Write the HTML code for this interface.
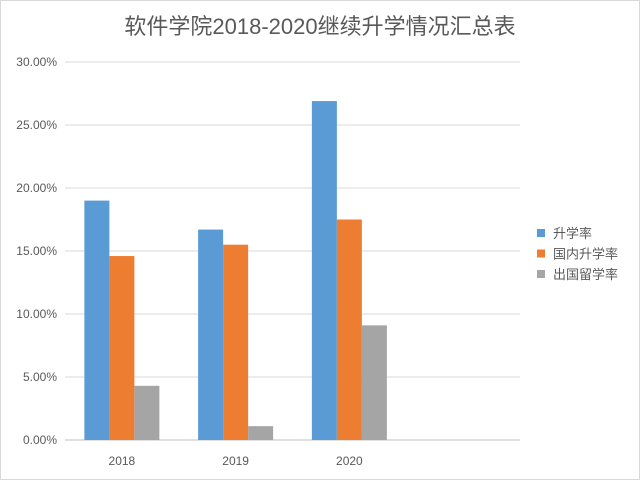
<!DOCTYPE html>
<html><head><meta charset="utf-8"><style>
body{margin:0;background:#fff;}
svg{display:block;font-family:"Liberation Sans","Noto Sans CJK SC",sans-serif;}
</style></head><body>
<svg id="chart" width="640" height="480">
<rect x="0.5" y="0.5" width="639" height="479" fill="#fff" stroke="#d9d9d9"/>
<text x="320" y="34" font-size="22" fill="#595959" text-anchor="middle">软件学院2018-2020继续升学情况汇总表</text>
<g id="grid"></g><g id="bars"></g><g id="xlabels"></g>
<g id="legend"></g>
</svg>
<script>
const categories=["2018","2019","2020",""];
const seriesNames=["升学率","国内升学率","出国留学率"];
const rateAll=[19.0,16.7,26.9,null];
const rateDomestic=[14.6,15.5,17.5,null];
const rateAbroad=[4.3,1.1,9.1,null];
const yTicks=[0,5,10,15,20,25,30];
const colors=["#5b9bd5","#ed7d31","#a5a5a5"];
const series=[rateAll,rateDomestic,rateAbroad];
const NS="http://www.w3.org/2000/svg";
const x0=65,x1=520,y0=440,y1=62,yMax=30;
function y(v){return y0-(v/yMax)*(y0-y1);}
const slot=(x1-x0)/categories.length;
function xc(i){return x0+slot*(i+0.5);}
function mk(tag,attrs,parent){const e=document.createElementNS(NS,tag);for(const k in attrs)e.setAttribute(k,attrs[k]);document.getElementById(parent).appendChild(e);return e;}
yTicks.forEach(t=>{
 const l=mk("line",{x1:x0,x2:x1,y1:y(t),y2:y(t),stroke:t===0?"#bfbfbf":"#d9d9d9","stroke-width":1},"grid");
 
 
 const tx=mk("text",{x:57,y:y(t)+4,"font-size":12,fill:"#595959","text-anchor":"end"},"grid");
 tx.textContent=t.toFixed(2)+"%";
 
 
});
const bw=25;
categories.forEach((c,i)=>{
 series.forEach((s,j)=>{
  if(s[i]==null)return;
  const r=mk("rect",{x:xc(i)-1.5*bw+j*bw,y:y(s[i]),width:bw,height:y0-y(s[i]),fill:colors[j]},"bars");
  
  
 });
 if(c){const t=mk("text",{x:xc(i),y:465,"font-size":12,fill:"#595959","text-anchor":"middle"},"xlabels");
 t.textContent=c;
 
 }
});
seriesNames.forEach((n,j)=>{
 const yy=233+j*20.5;
 const r=mk("rect",{x:537,y:yy-4,width:8,height:8,fill:colors[j]},"legend");
 
 
 const t=mk("text",{x:553,y:yy+5,"font-size":13,fill:"#595959"},"legend");
 t.textContent=n;
 
 
});
</script>
</body></html>
